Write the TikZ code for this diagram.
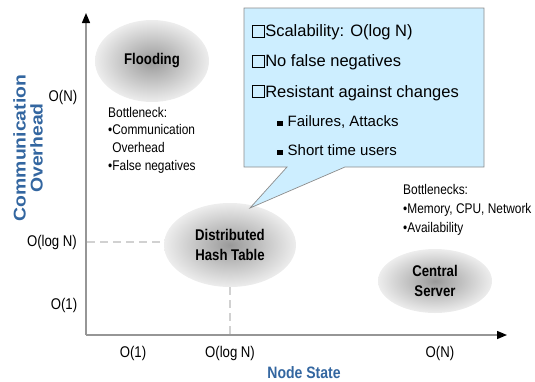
\documentclass[tikz,border=0pt]{standalone}
\usepackage{fontspec}
\setmainfont{Liberation Sans}
\newfontfamily\nf[FakeStretch=0.85]{Liberation Sans}
\newfontfamily\wf[FakeStretch=1.14]{Liberation Sans}
\usetikzlibrary{shapes.geometric,arrows.meta}
\definecolor{axblue}{RGB}{51,102,160}
\definecolor{callfill}{RGB}{205,238,255}
\definecolor{axgray}{RGB}{150,150,150}
\pgfdeclareradialshading{ellshade}{\pgfpoint{0bp}{0bp}}{color(0bp)=(black!40); color(5bp)=(black!33); color(25bp)=(black!7); color(50bp)=(black!7)}
\newcommand{\opensq}{{\fboxsep=0pt\fboxrule=0.9pt\fbox{\rule{0pt}{10.8pt}\rule{10.8pt}{0pt}}}\hspace{0.5pt}}
\newcommand{\fillsq}{\rule{5.5pt}{5.5pt}\hspace{5pt}}
\tikzset{
  ell/.style={ellipse, inner sep=0pt, shading=ellshade, align=center,
    font=\nf\bfseries\fontsize{15.5}{20.5}\selectfont},
  note/.style={anchor=base west, inner sep=0pt, font=\nf\fontsize{14}{16}\selectfont},
  tick/.style={inner sep=0pt, font=\nf\fontsize{15.5}{18}\selectfont},
  boxline/.style={anchor=base west, inner sep=0pt, font=\fontsize{16.5}{20}\selectfont},
  subline/.style={anchor=base west, inner sep=0pt, font=\fontsize{15}{18}\selectfont},
  axisline/.style={draw=axgray, line width=1.4pt, -{Triangle[length=10pt,width=8pt,color=black]}},
  guide/.style={draw=black!18, line width=2pt, dash pattern=on 8pt off 5pt},
  axtitle/.style={text=axblue, inner sep=0pt}
}
\begin{document}
\begin{tikzpicture}[x=1pt,y=-1pt]
\useasboundingbox (0,0) rectangle (535,381);
% axes
\coordinate (O) at (86,335);
\coordinate (ytip) at (86,13);
\coordinate (xtip) at (507,335);
\draw[axisline] (O) -- (ytip);
\draw[axisline] (O) -- (xtip);
% ellipses
\node[ell, minimum width=114pt, minimum height=82pt] (flood) at (152,61) {Flooding};
\node[ell, minimum width=132pt, minimum height=84pt] (dht) at (230,245) {Distributed\\Hash Table};
\node[ell, minimum width=114pt, minimum height=64pt] (cs) at (435,281) {Central\\Server};
% guides
\coordinate (gh) at (87,242);
\draw[guide] (gh) -- (gh -| dht.west);
\draw[guide] (dht.south) -- (dht.south |- O);
% tick labels
\node[tick] (yn) at (63,97) {O(N)};
\node[tick] (ylog) at (52,242) {O(log N)};
\node[tick] (y1) at (64,305) {O(1)};
\node[tick] (x1) at (133,353) {O(1)};
\node[tick] (xlog) at (230,353) {O(log N)};
\node[tick] (xn) at (440,353) {O(N)};
% axis titles
\node[axtitle, font=\nf\bfseries\fontsize{16.5}{18}\selectfont] (xtitle) at (304,373) {Node State};
\node[axtitle, rotate=90, align=center, font=\wf\bfseries\fontsize{17}{17}\selectfont] (ytitle) at (28,148) {Communication\\Overhead};
% notes
\node[note] (fn1) at (108,117) {Bottleneck:};
\node[note] (fn2) at (108,134) {•Communication};
\node[note] (fn3) at (108,152) {\hphantom{•}Overhead};
\node[note] (fn4) at (108,170) {•False negatives};
\node[note] (cn1) at (403,194) {Bottlenecks:};
\node[note] (cn2) at (403,213) {•Memory, CPU, Network};
\node[note] (cn3) at (403,232) {•Availability};
% callout
\coordinate (btl) at (244,8);
\coordinate (btr) at (484,8);
\coordinate (bbr) at (484,167);
\coordinate (pr) at (345,167);
\coordinate (tip) at (250,208);
\coordinate (pl) at (287,167);
\coordinate (bbl) at (244,167);
\draw[draw=black!45, fill=callfill, line width=0.7pt, line join=miter]
  (btl) -- (btr) -- (bbr) -- (pr) -- (tip) -- (pl) -- (bbl) -- cycle;
\node[boxline] (s1) at (252,36.7) {\opensq Scalability: O(log N)};
\node[boxline] (s2) at (252,66.7) {\opensq No false negatives};
\node[boxline] (s3) at (252,97) {\opensq Resistant against changes};
\node[subline] (s4) at (277,126) {\fillsq Failures, Attacks};
\node[subline] (s5) at (277,155) {\fillsq Short time users};
\end{tikzpicture}
\end{document}
